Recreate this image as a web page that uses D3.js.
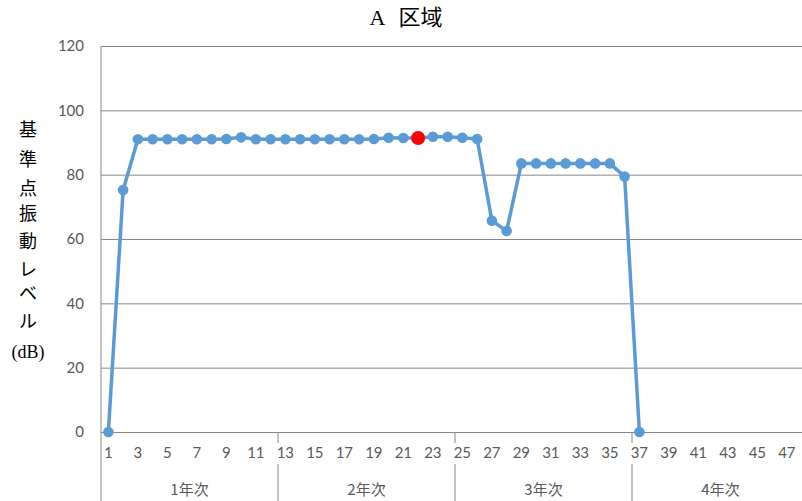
<!DOCTYPE html>
<html>
<head>
<meta charset="utf-8">
<script src="https://cdn.jsdelivr.net/npm/d3@7/dist/d3.min.js"></script>
<style>
  html, body { margin: 0; padding: 0; background: #fff; }
  svg { display: block; }
</style>
</head>
<body>
<svg id="chart" width="802" height="501"></svg>
<script>
const title = "A 区域";
const yTitleChars = ["基", "準", "点", "振", "動", "レ", "ベ", "ル", "(dB)"];
const categories = d3.range(1, 49);
const values = [0, 75.2, 91, 91, 91, 91, 91, 91, 91.1, 91.6, 91, 91, 91, 91, 91, 91, 91, 91, 91.1, 91.5, 91.4, 91.4,
                91.8, 91.8, 91.5, 91.1, 65.7, 62.5, 83.5, 83.5, 83.5, 83.5, 83.5, 83.5, 83.5, 79.4, 0];
const highlightCategory = 22;
const yTicks = [0, 20, 40, 60, 80, 100, 120];
const groupLabels = ["1年次", "2年次", "3年次", "4年次"];
const groupStarts = [1, 13, 25, 37];
const groupEnds = [12, 24, 36, 48];

(function () {
const svg = d3.select("#chart");
const mLeft = 101, mRight = 809, mTop = 46, mBottom = 432;
const fontNum = "Lato, 'Liberation Sans', sans-serif";
const fontCJK = "'Liberation Serif', 'Noto Sans CJK JP', serif";

const x = d3.scaleBand().domain(categories).range([mLeft, mRight]).padding(0);
const y = d3.scaleLinear().domain([0, 120]).range([mBottom, mTop]);
const cx = c => x(c) + x.bandwidth() / 2;

// Gridlines + y tick labels
const yAxis = d3.axisLeft(y).tickValues(yTicks).tickSize(-(mRight - mLeft)).tickPadding(17);
const gy = svg.append("g").attr("transform", `translate(${mLeft},0)`).call(yAxis);
gy.select(".domain").remove();
gy.selectAll(".tick line").attr("stroke", "#878787").attr("stroke-width", 1);
gy.selectAll(".tick text").attr("fill", "#595959").style("font-family", fontNum).style("font-size", "15px");

// left axis line
svg.append("line").attr("x1", mLeft).attr("x2", mLeft).attr("y1", mTop).attr("y2", 501)
  .attr("stroke", "#878787").attr("stroke-width", 1);

// x tick labels (odd categories)
const xAxis = d3.axisBottom(x).tickValues(categories.filter(c => c % 2 === 1)).tickSize(0).tickPadding(15);
const gx = svg.append("g").attr("transform", `translate(0,${mBottom})`).call(xAxis);
gx.select(".domain").remove();
gx.selectAll(".tick text").attr("fill", "#595959").style("font-family", fontNum).style("font-size", "15px");

// group separators and labels
groupEnds.forEach((e, i) => {
  const xe = x(e) + x.bandwidth();
  if (i < groupEnds.length - 1) {
    svg.append("line").attr("x1", xe).attr("x2", xe).attr("y1", mBottom).attr("y2", 443)
      .attr("stroke", "#878787");
    svg.append("line").attr("x1", xe).attr("x2", xe).attr("y1", 464).attr("y2", 501)
      .attr("stroke", "#878787");
  }
  const xs = x(groupStarts[i]);
  svg.append("text").attr("x", (xs + xe) / 2).attr("y", 495).attr("text-anchor", "middle")
    .attr("fill", "#595959").style("font-family", "'Noto Sans CJK JP', sans-serif").style("font-size", "15px")
    .text(groupLabels[i]);
});

// line
const pts = values.map((v, i) => ({ c: categories[i], v }));
svg.append("path").datum(pts)
  .attr("fill", "none").attr("stroke", "#5B9BD5").attr("stroke-width", 3.5)
  .attr("stroke-linejoin", "round")
  .attr("d", d3.line().x(d => cx(d.c)).y(d => y(d.v)));

svg.selectAll("circle.pt").data(pts).enter().append("circle")
  .attr("class", "pt")
  .attr("cx", d => cx(d.c)).attr("cy", d => y(d.v))
  .attr("r", d => d.c === highlightCategory ? 7 : 5.3)
  .attr("fill", d => d.c === highlightCategory ? "#FF0000" : "#5B9BD5");

// title
svg.append("text").attr("x", 406).attr("y", 25).attr("text-anchor", "middle")
  .attr("fill", "#000").style("font-family", fontCJK).style("font-size", "22px")
  .style("white-space", "pre").style("word-spacing", "9px").text(title);

// vertical y title
const yt = svg.append("text").attr("fill", "#000").style("font-family", fontCJK).style("font-size", "18px")
  .attr("text-anchor", "middle");
const yCenters = [130, 160, 189, 214, 242, 270, 294, 322, 352];
yTitleChars.forEach((ch, i) => {
  yt.append("tspan").attr("x", 28).attr("y", yCenters[i]).attr("dy", "0.35em").text(ch);
});
})();
</script>
</body>
</html>
